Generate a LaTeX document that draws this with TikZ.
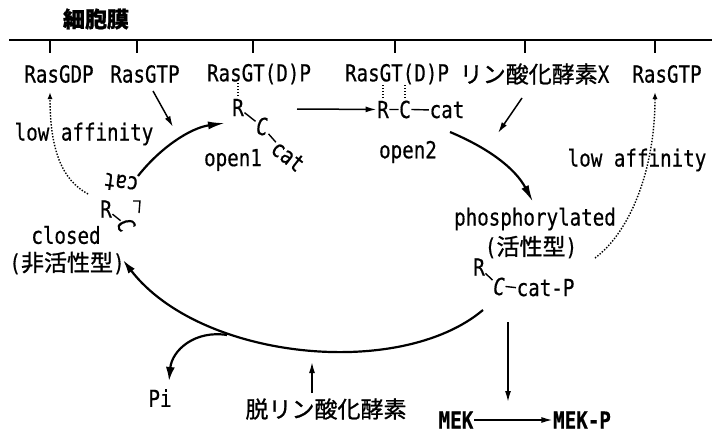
\documentclass[tikz,border=0pt]{standalone}
\usepackage{fontspec}
\newfontfamily\latf[FakeStretch=0.82,FakeBold=0.5]{DejaVu Sans Mono}
\newfontfamily\jpf[FakeBold=1]{Noto Sans CJK JP}
\usetikzlibrary{arrows.meta,calc}
\newcommand{\jt}[1]{{\jpf\fontsize{23}{25}\selectfont #1}}
\tikzset{
  lab/.style={font=\latf\fontsize{23.4}{25}\selectfont, inner sep=0.5pt},
  labit/.style={font=\latf\itshape\fontsize{23.4}{25}\selectfont, inner sep=0.5pt},
  labbf/.style={font=\latf\bfseries\fontsize{23.4}{25}\selectfont, inner sep=0.5pt},
  jlab/.style={font=\jpf\fontsize{23}{25}\selectfont, inner sep=0.5pt},
  bond/.style={line width=1.4pt},
  thinarrow/.style={line width=1.5pt, -{Latex[length=11pt,width=6pt]}},
  thickarrow/.style={line width=2.2pt, -{Latex[length=17pt,width=8pt]}},
  dotarrow/.style={line width=1.4pt, dash pattern=on 1.4pt off 1.6pt, -{Latex[length=7pt,width=5pt]}},
  dotline/.style={line width=1.4pt, dash pattern=on 1.4pt off 1.6pt},
}
\begin{document}
\begin{tikzpicture}[x=1pt,y=-1pt]
\useasboundingbox (0,0) rectangle (712,434);
\fill[white] (0,0) rectangle (712,434);

% membrane
\node[font=\jpf\bfseries\fontsize{22}{24}\selectfont, inner sep=0.5pt] (mem) at (96,19) {細胞膜};
\draw[line width=2.4pt] (9,40) coordinate (ml) -- (712,40) coordinate (mr);
\foreach \x in {50,137,253,395,525,655} \draw[line width=1.8pt] (\x,40) -- (\x,53);

% top labels
\node[lab] (gdp) at (59,74) {RasGDP};
\node[lab] (gtp1) at (145,74) {RasGTP};
\node[lab] (gtdp1) at (259,74) {RasGT(D)P};
\node[lab] (gtdp2) at (397,74) {RasGT(D)P};
\node[jlab, anchor=west] (kinx) at (459,74) {リン酸化酵素{\latf\fontsize{23.4}{25}\selectfont X}};
\node[lab] (gtp2) at (667,74) {RasGTP};

% open1
\node[lab, anchor=base] (R1) at (238,116) {R};
\node[labit, anchor=base] (C1) at (262,135) {C};
\node[lab, rotate=-38] (cat1) at (288,156) {cat};
\draw[bond] (R1) -- (C1);
\draw[bond] (C1) -- (cat1);
\draw[dotline] ($(R1.north)+(0,-2)$) -- ($(R1.north)+(0,-15)$);
\node[lab] (open1) at (233,160) {open1};

% open2
\node[lab, anchor=base] (R2) at (383,118) {R};
\node[lab, anchor=base] (C2) at (405,118) {C};
\node[lab, anchor=base] (cat2) at (447,118) {cat};
\draw[bond] (R2.east) -- (C2.west);
\draw[bond] (C2.east) -- (cat2.west);
\draw[dotline] ($(R2.north)+(0,-2)$) -- ($(R2.north)+(0,-15)$);
\draw[dotline] ($(C2.north)+(0,-2)$) -- ($(C2.north)+(0,-15)$);
\node[lab] (open2) at (408,152) {open2};

% phosphorylated
\node[lab] (phos) at (535,219) {phosphorylated};
\node[lab] (act) at (531,247) {(\jt{活性型})};
\node[lab] (R3) at (479,267) {R};
\node[labit, anchor=base] (C3) at (499,295) {C};
\node[lab, anchor=base west] (catP) at (516,296) {cat-P};
\draw[bond] (R3) -- (C3);
\draw[bond] (C3.east) -- (catP.west);

% closed
\node[lab, rotate=172] (catc) at (121,183) {cat};
\node[lab] (Rc) at (106,209) {R};
\node[labit, rotate=-60] (Cc) at (126,225) {C};
\draw[bond] (Rc) -- (Cc);
\draw[bond] (133,201) -- (140,201) -- (139,213);
\node[lab] (closed) at (66,235) {closed};
\node[lab] (inact) at (67,263) {(\jt{非活性型})};

% low affinity labels
\node[lab] (lowl) at (84,134) {low affinity};
\node[lab] (lowr) at (637,160) {low affinity};

% arrows
\coordinate (a1s) at (153,91);
\coordinate (a1e) at (173,127);
\draw[thinarrow] (a1s) -- (a1e);

\coordinate (c2os) at (138,176);
\coordinate (c2oe) at (225,123);
\draw[thickarrow] (c2os) .. controls (160,148) and (190,128) .. (c2oe);

\coordinate (dls) at (88,194);
\coordinate (dle) at (50,92);
\draw[dotarrow] (dls) .. controls (62,180) and (50,150) .. (dle);

\coordinate (o12s) at (297,109);
\draw[thinarrow] (o12s) -- (R2.west);

\coordinate (xs) at (522,98);
\coordinate (xe) at (498,133);
\draw[thinarrow] (xs) -- (xe);

\coordinate (o2ps) at (450,132);
\coordinate (o2pe) at (533,202);
\draw[thickarrow] (o2ps) .. controls (488,148) and (515,168) .. (o2pe);

\coordinate (drs) at (595,258);
\coordinate (dre) at (655,92);
\draw[dotarrow] (drs) .. controls (630,232) and (655,170) .. (dre);

\coordinate (arcs) at (483,310);
\coordinate (arce) at (123,260);
\draw[line width=2.2pt, -{Latex[length=14pt,width=8pt]}] (arcs) .. controls (400,380) and (200,360) .. (arce);

\node[lab] (Pi) at (160,398) {Pi};
\coordinate (pis) at (227,335);
\coordinate (pie) at (169,381);
\draw[line width=2.2pt, -{Latex[length=14pt,width=9pt]}] (pis) .. controls (195,330) and (172,350) .. (pie);

\node[jlab] (deph) at (326,409) {脱リン酸化酵素};
\coordinate (dps) at (312,393);
\coordinate (dpe) at (312,362);
\draw[thinarrow] (dps) -- (dpe);

\node[labbf] (MEK) at (456,420) {MEK};
\node[labbf] (MEKP) at (582,420) {MEK-P};
\coordinate (mks) at (508,322);
\coordinate (mke) at (508,402);
\draw[thinarrow] (mks) -- (mke);
\draw[thinarrow] (MEK.east) -- (MEKP.west);
\end{tikzpicture}
\end{document}
